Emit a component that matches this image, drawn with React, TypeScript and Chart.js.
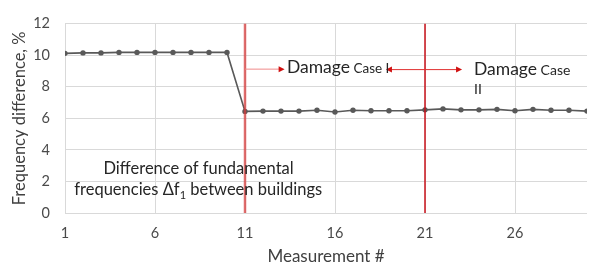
import React, { useEffect, useRef } from "react";
import { Chart, registerables } from "chart.js";

Chart.register(...registerables);

const measurements = [1, 2, 3, 4, 5, 6, 7, 8, 9, 10, 11, 12, 13, 14, 15, 16, 17, 18, 19, 20, 21, 22, 23, 24, 25, 26, 27, 28, 29, 30];
const freqDiff = [
  10.12, 10.15, 10.15, 10.18, 10.18, 10.18, 10.18, 10.18, 10.18, 10.18,
  6.44, 6.46, 6.46, 6.46, 6.51, 6.4, 6.51, 6.48, 6.48, 6.48,
  6.54, 6.6, 6.54, 6.54, 6.57, 6.48, 6.57, 6.51, 6.51, 6.46,
];
const xTicks = [1, 6, 11, 16, 21, 26];
const damageStarts = [11, 21];

const FONT = "Lato, 'Open Sans', sans-serif";

type Part = { text: string; size: number; dy?: number };

function drawRich(ctx: CanvasRenderingContext2D, parts: Part[], x: number, y: number, align: "left" | "center" = "left") {
  let total = 0;
  for (const p of parts) {
    ctx.font = `${p.size}px ${FONT}`;
    total += ctx.measureText(p.text).width;
  }
  let cx = align === "center" ? x - total / 2 : x;
  ctx.textAlign = "left";
  ctx.textBaseline = "alphabetic";
  for (const p of parts) {
    ctx.font = `${p.size}px ${FONT}`;
    ctx.fillText(p.text, cx, y + (p.dy || 0));
    cx += ctx.measureText(p.text).width;
  }
}

function arrowHead(ctx: CanvasRenderingContext2D, x: number, y: number, dir: number, color: string) {
  ctx.fillStyle = color;
  ctx.beginPath();
  ctx.moveTo(x, y);
  ctx.lineTo(x - dir * 6, y - 3);
  ctx.lineTo(x - dir * 6, y + 3);
  ctx.closePath();
  ctx.fill();
}

const annotationPlugin = {
  id: "annotations",
  afterDatasetsDraw(chart: any) {
    const { ctx, chartArea, scales } = chart;
    const xs = scales.x;
    const ys = scales.y;
    ctx.save();
    damageStarts.forEach((v, i) => {
      const px = xs.getPixelForValue(v);
      ctx.strokeStyle = i === 0 ? "rgba(214, 60, 60, 0.75)" : "#c8101a";
      ctx.lineWidth = i === 0 ? 2.5 : 1.5;
      ctx.beginPath();
      ctx.moveTo(px, chartArea.top);
      ctx.lineTo(px, chartArea.bottom);
      ctx.stroke();
    });
    const a1y = ys.getPixelForValue(9.12);
    const a1x0 = xs.getPixelForValue(11);
    const a1x1 = xs.getPixelForValue(13.2);
    ctx.strokeStyle = "#f08a8a";
    ctx.lineWidth = 1;
    ctx.beginPath();
    ctx.moveTo(a1x0, a1y);
    ctx.lineTo(a1x1 - 4, a1y);
    ctx.stroke();
    arrowHead(ctx, a1x1, a1y, 1, "#d01010");
    const a2y = ys.getPixelForValue(9.09);
    const a2x0 = xs.getPixelForValue(18.83);
    const a2x1 = xs.getPixelForValue(23.06);
    ctx.strokeStyle = "#e03030";
    ctx.beginPath();
    ctx.moveTo(a2x0 + 4, a2y);
    ctx.lineTo(a2x1 - 4, a2y);
    ctx.stroke();
    arrowHead(ctx, a2x0, a2y, -1, "#d01010");
    arrowHead(ctx, a2x1, a2y, 1, "#d01010");

    ctx.fillStyle = "#262626";
    drawRich(ctx, [{ text: "Damage", size: 17.5 }, { text: " Case I", size: 13.5 }], xs.getPixelForValue(13.33), ys.getPixelForValue(8.9));
    drawRich(ctx, [{ text: "Damage", size: 17.5 }, { text: " Case", size: 14 }], xs.getPixelForValue(23.72), ys.getPixelForValue(8.75));
    drawRich(ctx, [{ text: "II", size: 14 }], xs.getPixelForValue(23.72), ys.getPixelForValue(7.57));

    drawRich(ctx, [{ text: "Difference of fundamental", size: 16.5 }], xs.getPixelForValue(8.42), ys.getPixelForValue(2.45), "center");
    drawRich(
      ctx,
      [
        { text: "frequencies Δf", size: 16.5 },
        { text: "1", size: 11, dy: 4 },
        { text: " between buildings", size: 16.5 },
      ],
      xs.getPixelForValue(8.4),
      ys.getPixelForValue(1.15),
      "center"
    );
    ctx.restore();
  },
};

export default function App() {
  const ref = useRef<HTMLCanvasElement | null>(null);
  useEffect(() => {
    document.body.style.margin = "0";
    const canvas = ref.current;
    if (!canvas) return;
    const chart = new Chart(canvas, {
      type: "line",
      data: {
        datasets: [
          {
            label: "Frequency difference",
            data: measurements.map((m, i) => ({ x: m, y: freqDiff[i] })),
            borderColor: "#595959",
            backgroundColor: "#595959",
            borderWidth: 1.6,
            pointRadius: 2.7,
            pointBorderWidth: 0,
            pointBackgroundColor: "#595959",
            tension: 0,
          },
        ],
      },
      options: {
        animation: false,
        responsive: false,
        maintainAspectRatio: false,
        layout: { padding: { top: 19, right: 6, left: 0, bottom: 0 } },
        plugins: { legend: { display: false }, tooltip: { enabled: false } },
        scales: {
          x: {
            type: "linear",
            min: 1,
            max: 30,
            afterBuildTicks: (s: any) => {
              s.ticks = xTicks.map((v) => ({ value: v }));
            },
            afterFit: (s: any) => {
              s.height = 60;
            },
            grid: { color: "#d9d9d9", lineWidth: 1, drawTicks: false },
            border: { display: false },
            ticks: { color: "#4a4a4a", font: { family: FONT, size: 14.5 }, padding: 12, maxRotation: 0, autoSkip: false },
            title: { display: true, text: "Measurement #", color: "#404040", font: { family: FONT, size: 17 }, padding: { top: 0, bottom: 6 } },
          },
          y: {
            min: 0,
            max: 12,
            ticks: { stepSize: 2, color: "#4a4a4a", font: { family: FONT, size: 14.5 }, padding: 15 },
            afterFit: (s: any) => {
              s.width = 65;
            },
            grid: { color: "#d9d9d9", lineWidth: 1, drawTicks: false },
            border: { display: false },
            title: { display: true, text: "Frequency difference, %", color: "#404040", font: { family: FONT, size: 16.5 }, padding: { top: 10, bottom: 0 } },
          },
        },
      },
      plugins: [annotationPlugin],
    } as any);
    return () => chart.destroy();
  }, []);
  return (
    <div style={{ width: 593, height: 273 }}>
      <canvas ref={ref} width={593} height={273} style={{ display: "block" }} />
    </div>
  );
}
